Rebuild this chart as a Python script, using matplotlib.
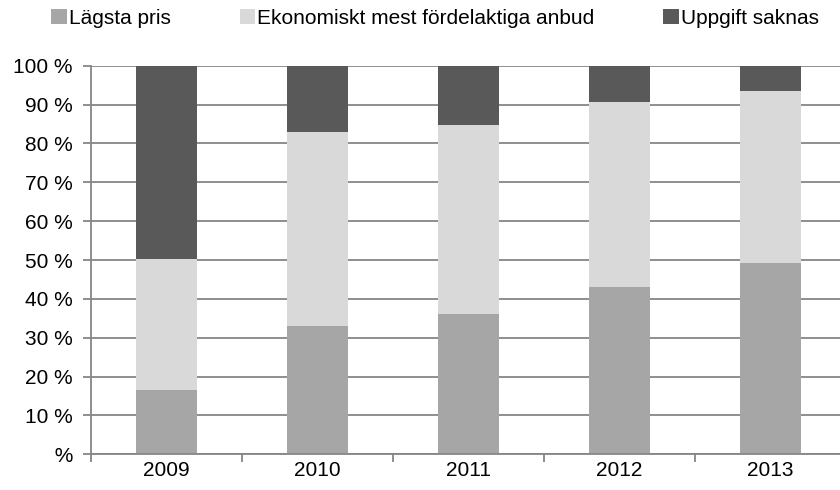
import matplotlib.pyplot as plt
from matplotlib.ticker import FixedLocator

plt.rcParams['font.family'] = ['Liberation Sans', 'DejaVu Sans']

years = ["2009", "2010", "2011", "2012", "2013"]
lagsta = [16.5, 33.0, 36.1, 43.0, 49.2]
ekonomiskt = [33.7, 49.9, 48.7, 47.7, 44.3]
uppgift = [49.8, 17.1, 15.2, 9.3, 6.5]
series_names = ["Lägsta pris", "Ekonomiskt mest fördelaktiga anbud", "Uppgift saknas"]
ytick_labels = [" %", "10 %", "20 %", "30 %", "40 %", "50 %", "60 %", "70 %", "80 %", "90 %", "100 %"]

colors = ["#a6a6a6", "#d9d9d9", "#595959"]
grid_col = "#868686"

fig = plt.figure(figsize=(8.4, 4.9), dpi=100)
ax = fig.add_axes([91/840, (490-454.3)/490, 755/840, 388.6/490])

x = range(len(years))
bottom2 = [a + b for a, b in zip(lagsta, ekonomiskt)]
b1 = ax.bar(x, lagsta, width=0.4, color=colors[0], label=series_names[0], zorder=2)
b2 = ax.bar(x, ekonomiskt, width=0.4, bottom=lagsta, color=colors[1], label=series_names[1], zorder=2)
b3 = ax.bar(x, uppgift, width=0.4, bottom=bottom2, color=colors[2], label=series_names[2], zorder=2)

ax.set_xlim(-0.5, 4.5)
ax.set_ylim(0, 100)
ax.set_yticks(range(0, 101, 10))
ax.set_yticklabels(ytick_labels)
ax.yaxis.grid(True, color=grid_col, linewidth=1.3)
ax.set_axisbelow(True)

ax.set_xticks(list(x))
ax.set_xticklabels(years)
ax.xaxis.set_minor_locator(FixedLocator([-0.5, 0.5, 1.5, 2.5, 3.5, 4.5]))
ax.tick_params(axis='x', which='major', length=0, pad=5, labelsize=15)
ax.tick_params(axis='x', which='minor', length=6, color=grid_col, width=1.3)
ax.tick_params(axis='y', length=6, color=grid_col, width=1.3, pad=7, labelsize=15)

for s in ["top", "right"]:
    ax.spines[s].set_visible(False)
for s in ["left", "bottom"]:
    ax.spines[s].set_color(grid_col)
    ax.spines[s].set_linewidth(1.3)

fig.legend(handles=[b1, b2, b3], loc="center", bbox_to_anchor=(0.518, 0.962), ncol=3,
           frameon=False, fontsize=15, handlelength=0.75, handleheight=0.75,
           handletextpad=0.1, columnspacing=3.3)

fig.savefig("out.png", dpi=100)
